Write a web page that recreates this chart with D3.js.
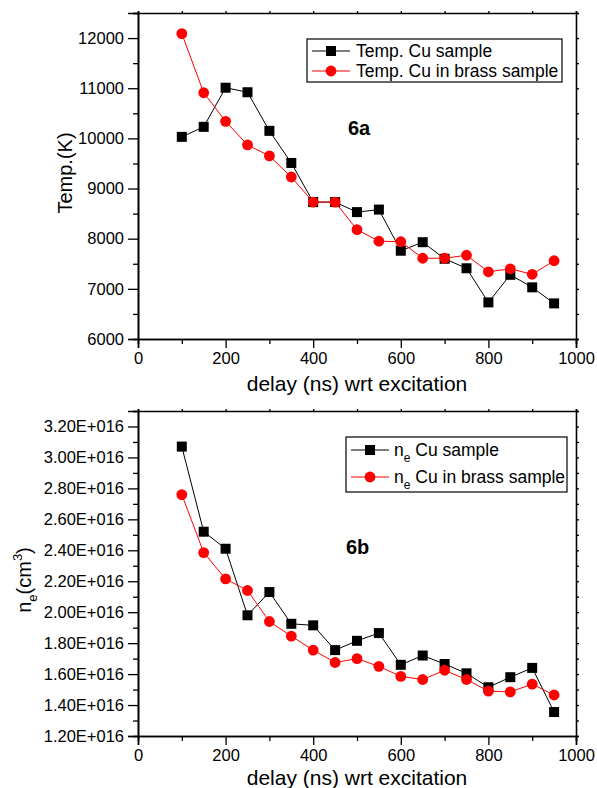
<!DOCTYPE html>
<html>
<head>
<script src="https://d3js.org/d3.v7.min.js"></script>
<style>
  body { margin: 0; background: #fff; }
  svg text { font-family: "Liberation Sans", Arial, sans-serif; fill: #000; }
</style>
</head>
<body>
<svg id="fig" width="597" height="788"></svg>
<script>
// delay (ns)
const delays = [100,150,200,250,300,350,400,450,500,550,600,650,700,750,800,850,900,950];

// 6a - temperature (K)
const tempCu      = [10030,10230,11010,10920,10150,9510,8730,8730,8530,8580,7760,7930,7600,7410,6730,7280,7030,6710];
const tempCuBrass = [12090,10910,10340,9870,9650,9230,8730,8730,8180,7950,7940,7610,7610,7670,7340,7400,7290,7560];

// 6b - electron density (cm^-3)
const neCu      = [3.07e16,2.52e16,2.41e16,1.98e16,2.13e16,1.925e16,1.915e16,1.755e16,1.815e16,1.865e16,1.66e16,1.72e16,1.665e16,1.605e16,1.515e16,1.58e16,1.64e16,1.355e16];
const neCuBrass = [2.76e16,2.385e16,2.215e16,2.14e16,1.94e16,1.845e16,1.755e16,1.675e16,1.70e16,1.65e16,1.585e16,1.565e16,1.625e16,1.565e16,1.49e16,1.485e16,1.535e16,1.465e16];

const xMajor = [0,200,400,600,800,1000];
const xMinor = [100,300,500,700,900];
const tempMajor = [6000,7000,8000,9000,10000,11000,12000];
const tempMinor = [6500,7500,8500,9500,10500,11500,12500];
const neMajor = d3.range(12,33,2).map(d=>d*1e15);
const neMinor = d3.range(13,34,2).map(d=>d*1e15);

const svg = d3.select('#fig');

function drawPanel(cfg){
    const g = svg.append('g');
    const x = d3.scaleLinear().domain([0,1000]).range([cfg.left,cfg.right]);
    const y = d3.scaleLinear().domain(cfg.yDomain).range([cfg.bottom,cfg.top]);

    // bottom axis
    g.append('g').attr('transform',`translate(0,${cfg.bottom})`)
     .call(d3.axisBottom(x).tickValues(xMajor).tickSize(9).tickPadding(4).tickFormat(d3.format('d')));
    g.append('g').attr('transform',`translate(0,${cfg.bottom})`)
     .call(d3.axisBottom(x).tickValues(xMinor).tickSize(5).tickFormat(''));
    // left axis
    g.append('g').attr('transform',`translate(${cfg.left},0)`)
     .call(d3.axisLeft(y).tickValues(cfg.yMajor).tickSize(10).tickPadding(4).tickFormat(cfg.yFormat));
    g.append('g').attr('transform',`translate(${cfg.left},0)`)
     .call(d3.axisLeft(y).tickValues(cfg.yMinor).tickSize(5).tickFormat(''));
    // top & right (mirror, small ticks)
    g.append('g').attr('transform',`translate(0,${cfg.top})`)
     .call(d3.axisTop(x).tickValues(xMajor.concat(xMinor)).tickSize(2).tickFormat(''));
    g.append('g').attr('transform',`translate(${cfg.right},0)`)
     .call(d3.axisRight(y).tickValues(cfg.yMajor.concat(cfg.yMinor)).tickSize(3).tickFormat(''));

    g.selectAll('.domain').attr('stroke','#000').attr('stroke-width',1.6);
    g.selectAll('.tick line').attr('stroke','#000').attr('stroke-width',1.3);
    g.selectAll('.tick text').style('font-size','16.5px');

    // x title
    g.append('text').attr('x',(cfg.left+cfg.right)/2).attr('y',cfg.bottom+cfg.xTitleDy)
     .attr('text-anchor','middle').style('font-size','21px').text('delay (ns) wrt excitation');

    // y title
    cfg.yTitle(g);

    // series
    const line = d3.line().x((d,i)=>x(delays[i])).y(d=>y(d));
    g.append('path').datum(cfg.black).attr('d',line).attr('fill','none').attr('stroke','#000').attr('stroke-width',1);
    g.selectAll('rect.pt').data(cfg.black).join('rect').attr('class','pt')
     .attr('x',(d,i)=>x(delays[i])-5).attr('y',d=>y(d)-5).attr('width',10).attr('height',10).attr('fill','#000');
    g.append('path').datum(cfg.red).attr('d',line).attr('fill','none').attr('stroke','#ff0000').attr('stroke-width',1);
    g.selectAll('circle.pt').data(cfg.red).join('circle').attr('class','pt')
     .attr('cx',(d,i)=>x(delays[i])).attr('cy',d=>y(d)).attr('r',5.4).attr('fill','#ff0000');

    // panel tag
    g.append('text').attr('x',cfg.tag[0]).attr('y',cfg.tag[1]).style('font-size','20px')
     .style('font-weight','bold').text(cfg.tag[2]);

    // legend
    const L = cfg.legend;
    g.append('rect').attr('x',L.x).attr('y',L.y).attr('width',L.w).attr('height',L.h)
     .attr('fill','#fff').attr('stroke','#000').attr('stroke-width',1.2);
    L.rows.forEach((r,i)=>{
        const cy = L.y + L.row0 + i*L.gap;
        const col = i===0 ? '#000' : '#ff0000';
        g.append('line').attr('x1',L.x+5).attr('x2',L.x+5+L.lineW).attr('y1',cy).attr('y2',cy)
         .attr('stroke',col).attr('stroke-width',1);
        if(i===0){
            g.append('rect').attr('x',L.x+5+L.lineW/2-5).attr('y',cy-5).attr('width',10).attr('height',10).attr('fill',col);
        } else {
            g.append('circle').attr('cx',L.x+5+L.lineW/2).attr('cy',cy).attr('r',5.4).attr('fill',col);
        }
        const t = g.append('text').attr('x',L.x+L.textX).attr('y',cy+6).style('font-size','17.5px');
        r(t);
    });
}

// 6a
drawPanel({
    left:138, right:576, top:13, bottom:339,
    yDomain:[6000,12500], yMajor:tempMajor, yMinor:tempMinor,
    yFormat:d3.format('d'),
    xTitleDy:52,
    black:tempCu, red:tempCuBrass,
    tag:[348,135,'6a'],
    yTitle:g=>{
        g.append('text').attr('transform','translate(72,173) rotate(-90)').attr('text-anchor','middle')
         .style('font-size','20px').text('Temp.(K)');
    },
    legend:{x:307,y:39,w:255,h:43,row0:12,gap:20,lineW:38,textX:49,
        rows:[t=>t.text('Temp. Cu sample'), t=>t.text('Temp. Cu in brass sample')]}
});

// 6b
drawPanel({
    left:138, right:576, top:411, bottom:736,
    yDomain:[1.2e16,3.3e16], yMajor:neMajor, yMinor:neMinor,
    yFormat:d=>d3.format('.2f')(d/1e16)+'E+016',
    xTitleDy:49,
    black:neCu, red:neCuBrass,
    tag:[346,554,'6b'],
    yTitle:g=>{
        const t = g.append('text').attr('transform','translate(31,580) rotate(-90)').attr('text-anchor','middle')
         .style('font-size','20px');
        t.append('tspan').text('n');
        t.append('tspan').attr('dy',6).style('font-size','13px').text('e');
        t.append('tspan').attr('dy',-6).text('(cm');
        t.append('tspan').attr('dy',-9).style('font-size','13px').text('3');
        t.append('tspan').attr('dy',9).text(')');
    },
    legend:{x:346,y:437,w:221,h:55,row0:13,gap:27,lineW:38,textX:48,
        rows:[
            t=>{ t.append('tspan').text('n'); t.append('tspan').attr('dy',6).style('font-size','12px').text('e');
                 t.append('tspan').attr('dy',-6).text(' Cu sample'); },
            t=>{ t.append('tspan').text('n'); t.append('tspan').attr('dy',6).style('font-size','12px').text('e');
                 t.append('tspan').attr('dy',-6).text(' Cu in brass sample'); }
        ]}
});
</script>
</body>
</html>
